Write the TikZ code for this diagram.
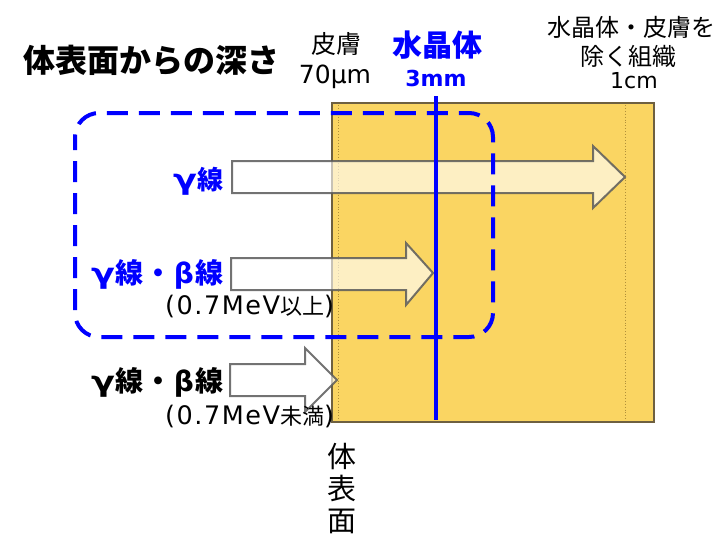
\documentclass[tikz,border=0pt]{standalone}
\usepackage{fontspec}
\setmainfont{DejaVu Sans}
\newfontfamily\jp{Noto Sans CJK JP}
\newcommand\myfs[1]{\fontsize{#1}{#1}\selectfont}
\newcommand\mygam{\scalebox{1.25}[1]{\myfs{28}γ}}
\definecolor{skin}{HTML}{FAD562}
\definecolor{rectborder}{HTML}{6E6040}
\definecolor{dotc}{HTML}{B0903A}
\definecolor{arrowborder}{HTML}{5A5A5A}
\definecolor{dblue}{HTML}{0000FF}
\tikzset{
  lbl/.style={inner sep=0pt, outer sep=0pt},
  tissue/.style={fill=skin, draw=rectborder, line width=1.6pt},
  layerline/.style={draw=dotc, line width=0.9pt, dotted},
  bigarrow/.style={fill=white, fill opacity=0.62, draw=arrowborder, draw opacity=0.85, line width=2pt, line join=miter},
  lensline/.style={draw=dblue, line width=4pt},
  zone/.style={draw=dblue, line width=4pt, rounded corners=24pt, dash pattern=on 21pt off 11pt, dash phase=8pt},
}
\begin{document}
\begin{tikzpicture}[x=1pt,y=-1pt]
\useasboundingbox (0,0) rectangle (727,542);
% tissue block
\path[tissue] (332,103) rectangle (654,422);
\draw[layerline] (338,105) -- (338,420);
\draw[layerline] (625,105) -- (625,420);
% arrows
\path[bigarrow] (232,161) -- (593,161) -- (593,146) -- (625,177) -- (593,208) -- (593,193) -- (232,193) -- cycle;
\path[bigarrow] (231,258) -- (406,258) -- (406,243) -- (433,273) -- (406,305) -- (406,290) -- (231,290) -- cycle;
\path[bigarrow] (230,364) -- (305,364) -- (305,348) -- (337,380) -- (305,412) -- (305,396) -- (230,396) -- cycle;
% lens line
\coordinate (lenstop) at (436,96);
\coordinate (lensbot) at (436,420);
\draw[lensline] (lenstop) -- (lensbot);
% dashed zone
\draw[zone] (75,113) rectangle (493,337);
% labels
\node[lbl, anchor=west] (title) at (23,60) {\jp\bfseries\myfs{32}体表面からの深さ};
\node[lbl] (skinlbl) at (336,44) {\jp\myfs{25}皮膚};
\node[lbl] (skindepth) at (335,77) {\myfs{25}70μm};
\node[lbl, text=dblue] (lenslbl) at (437,45) {\jp\bfseries\myfs{30}水晶体};
\node[lbl, text=dblue] (lensdepth) at (436,78) {\bfseries\myfs{22}3mm};
\node[lbl] (other1) at (631,27) {\jp\myfs{24}水晶体・皮膚を};
\node[lbl] (other2) at (628,56) {\jp\myfs{24}除く組織};
\node[lbl] (otherdepth) at (634,81) {\myfs{22}1cm};
\node[lbl, anchor=east, text=dblue] (gam) at (223,181) {\bfseries\mygam{\jp\myfs{26}線}};
\node[lbl, anchor=east, text=dblue] (gb1) at (223,274) {\bfseries\mygam\kern1pt{\jp\myfs{28}線\kern1pt・\kern1pt}{\myfs{28}β}\kern1pt{\jp\myfs{28}線}};
\node[lbl, anchor=east] (e1) at (334,306) {\myfs{25.5}\addfontfeature{LetterSpace=6}(0.7MeV{\jp\myfs{22}以上})};
\node[lbl, anchor=east] (gb2) at (223,382) {\bfseries\mygam\kern1pt{\jp\myfs{28}線\kern1pt・\kern1pt}{\myfs{28}β}\kern1pt{\jp\myfs{28}線}};
\node[lbl, anchor=east] (e2) at (334,416) {\myfs{25.5}\addfontfeature{LetterSpace=6}(0.7MeV{\jp\myfs{22}未満})};
\node[lbl, align=center, font=\jp\fontsize{29}{32}\selectfont] (surface) at (342,489) {体\\表\\面};
\end{tikzpicture}
\end{document}
